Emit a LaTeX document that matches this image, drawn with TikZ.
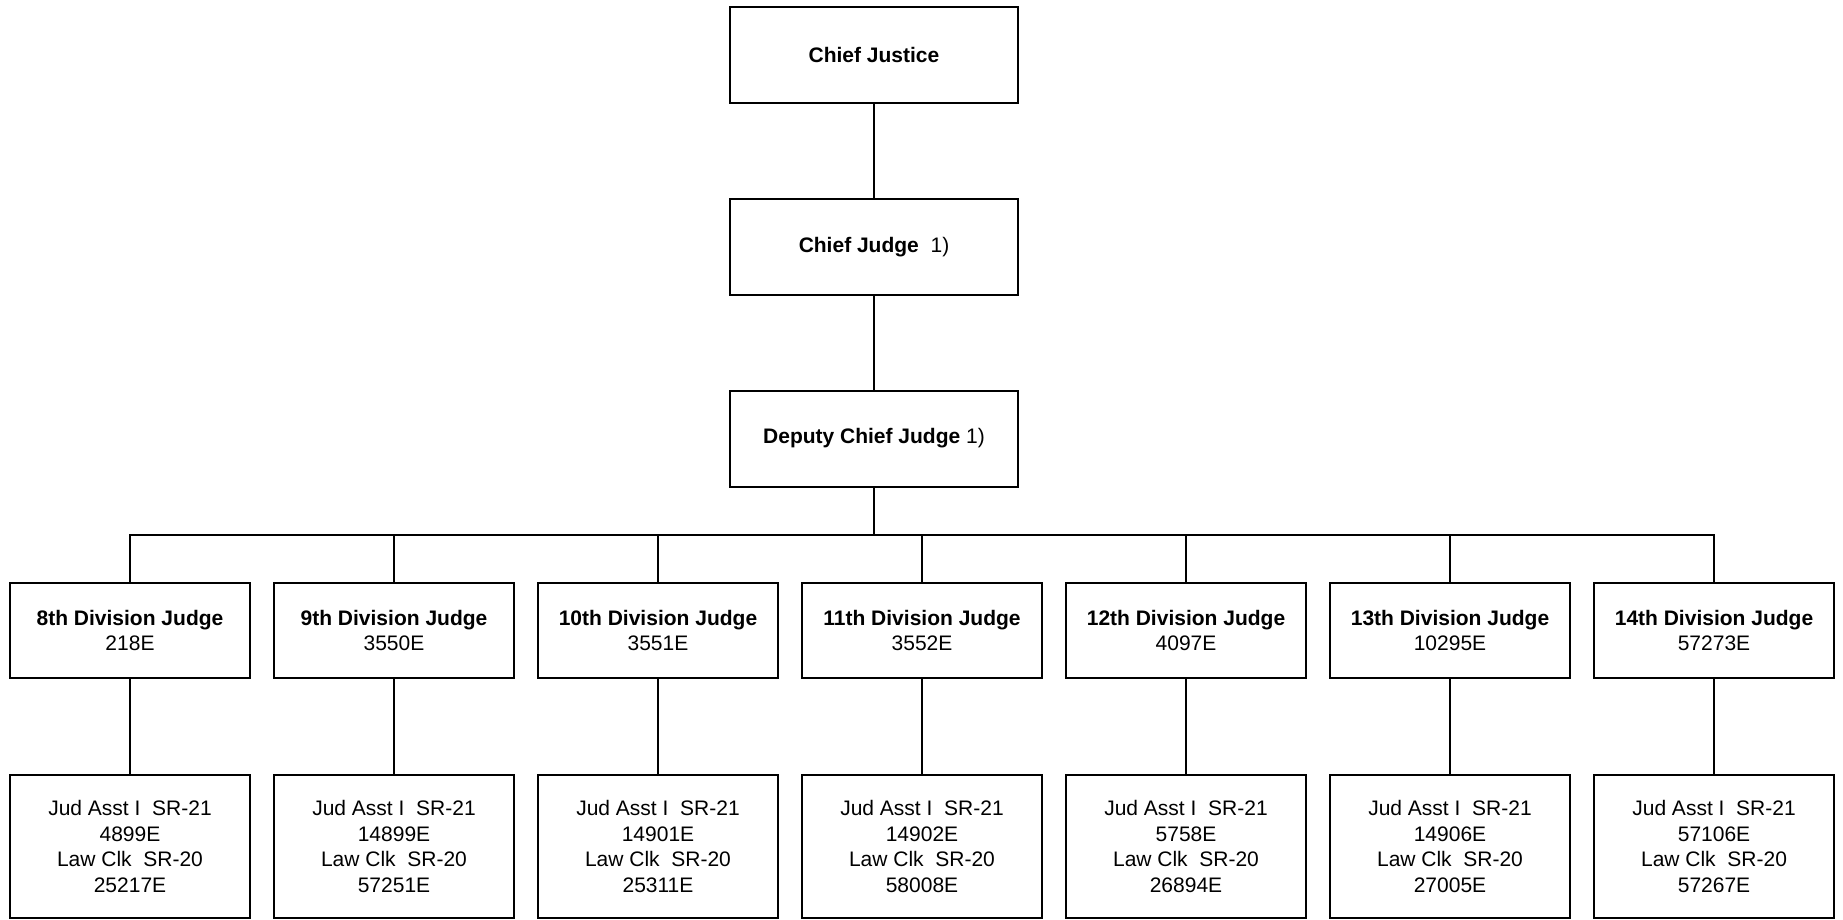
\documentclass[tikz,border=0pt]{standalone}
\usepackage{fontspec}
\setmainfont{Liberation Sans}
\begin{document}
\begin{tikzpicture}[x=1pt,y=-1pt,
  box/.style={draw=black, rectangle, line width=2pt, align=center, inner sep=0pt, font=\fontsize{21}{25.5}\selectfont},
  topbox/.style={box, minimum width=288pt, minimum height=96pt},
  divbox/.style={box, minimum width=240pt, minimum height=95pt},
  staffbox/.style={box, minimum width=240pt, minimum height=143pt},
  conn/.style={draw=black, line width=2pt}]
\useasboundingbox (0,0) rectangle (1843,919);
\fill[white] (0,0) rectangle (1843,919);

\node[topbox] (cj) at (874,55) {\textbf{Chief Justice}};
\node[topbox] (cjudge) at (874,247) {\textbf{Chief Judge}\ \ 1)};
\node[topbox] (dep) at (874,438.5) {\textbf{Deputy Chief Judge} 1)};

\node[divbox] (d8)  at (130,630.5)  {\textbf{8th Division Judge}\\218E};
\node[divbox] (d9)  at (394,630.5)  {\textbf{9th Division Judge}\\3550E};
\node[divbox] (d10) at (658,630.5)  {\textbf{10th Division Judge}\\3551E};
\node[divbox] (d11) at (922,630.5)  {\textbf{11th Division Judge}\\3552E};
\node[divbox] (d12) at (1186,630.5) {\textbf{12th Division Judge}\\4097E};
\node[divbox] (d13) at (1450,630.5) {\textbf{13th Division Judge}\\10295E};
\node[divbox] (d14) at (1714,630.5) {\textbf{14th Division Judge}\\57273E};

\node[staffbox] (s8)  at (130,846.5)  {Jud Asst I\ \ SR-21\\4899E\\Law Clk\ \ SR-20\\25217E};
\node[staffbox] (s9)  at (394,846.5)  {Jud Asst I\ \ SR-21\\14899E\\Law Clk\ \ SR-20\\57251E};
\node[staffbox] (s10) at (658,846.5)  {Jud Asst I\ \ SR-21\\14901E\\Law Clk\ \ SR-20\\25311E};
\node[staffbox] (s11) at (922,846.5)  {Jud Asst I\ \ SR-21\\14902E\\Law Clk\ \ SR-20\\58008E};
\node[staffbox] (s12) at (1186,846.5) {Jud Asst I\ \ SR-21\\5758E\\Law Clk\ \ SR-20\\26894E};
\node[staffbox] (s13) at (1450,846.5) {Jud Asst I\ \ SR-21\\14906E\\Law Clk\ \ SR-20\\27005E};
\node[staffbox] (s14) at (1714,846.5) {Jud Asst I\ \ SR-21\\57106E\\Law Clk\ \ SR-20\\57267E};

\coordinate (bus) at (874,535);
\draw[conn] (cj) -- (cjudge);
\draw[conn] (cjudge) -- (dep);
\draw[conn] (dep.south) -- (bus);
\draw[conn] (d8.north) |- (bus) -| (d14.north);
\foreach \n in {d9,d10,d11,d12,d13}
  \draw[conn] (\n.north) -- (\n.north |- bus);
\foreach \n in {8,...,14}
  \draw[conn] (d\n) -- (s\n);
\end{tikzpicture}
\end{document}
